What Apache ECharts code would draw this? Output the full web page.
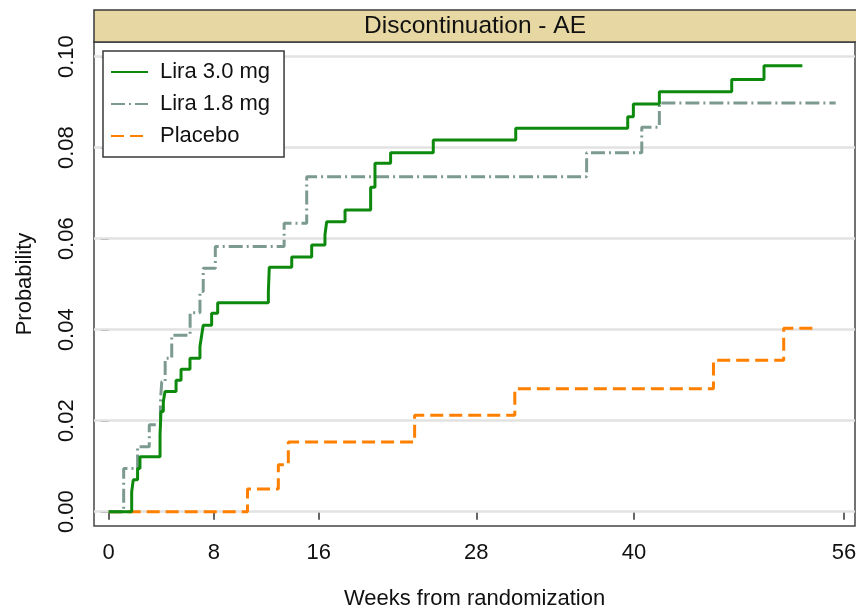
<!DOCTYPE html>
<html>
<head>
<meta charset="utf-8">
<script src="https://cdn.jsdelivr.net/npm/echarts@6/dist/echarts.min.js"></script>
<style>
  html, body { margin: 0; padding: 0; background: #fff; }
  #chart { width: 856px; height: 611px; }
</style>
</head>
<body>
<div id="chart"></div>
<script>
// Cumulative probability of discontinuation due to adverse events (step curves)
const weeksLira30 = [0, 1.75, 1.87, 2.2, 2.38, 3.91, 3.98, 4.16, 4.29, 5.13, 5.51, 6.19, 6.95, 7.08, 7.2, 7.84, 8.3, 12.16, 12.23, 13.94, 15.46, 16.47, 16.6, 18.0, 19.95, 20.28, 21.47, 24.72, 31.0, 39.53, 39.96, 41.94, 47.45, 49.91, 52.83];
const probLira30  = [0, 0.0044, 0.0070, 0.0095, 0.0121, 0.0169, 0.0220, 0.0242, 0.0264, 0.0289, 0.0313, 0.0337, 0.0363, 0.0388, 0.0410, 0.0436, 0.0459, 0.0484, 0.0537, 0.0560, 0.0586, 0.0608, 0.0637, 0.0663, 0.0713, 0.0766, 0.0789, 0.0817, 0.0843, 0.0868, 0.0896, 0.0923, 0.0950, 0.0980, 0.0980];

const weeksLira18 = [0, 1.14, 2.2, 3.09, 3.94, 4.04, 4.3, 4.8, 6.2, 6.95, 7.2, 8.12, 13.36, 15.08, 36.4, 40.6, 41.94, 55.37];
const probLira18  = [0, 0.0095, 0.0143, 0.0191, 0.0242, 0.0286, 0.0337, 0.0388, 0.0437, 0.0484, 0.0535, 0.0583, 0.0634, 0.0736, 0.0789, 0.0845, 0.0898, 0.0898];

const weeksPlacebo = [0, 10.57, 12.92, 13.68, 23.3, 30.93, 46.06, 51.41, 53.8];
const probPlacebo  = [0, 0.0050, 0.0103, 0.0153, 0.0212, 0.0270, 0.0333, 0.0403, 0.0403];

const seriesNames = ['Lira 3.0 mg', 'Lira 1.8 mg', 'Placebo'];
const xTickValues = [0, 8, 16, 28, 40, 56];
const yTickValues = [0, 0.02, 0.04, 0.06, 0.08, 0.10];
const panelTitle = 'Discontinuation - AE';

const FONT = '"Liberation Sans", Arial, sans-serif';
const pairs = (xs, ys) => xs.map((x, i) => [x, ys[i]]);

const chart = echarts.init(document.getElementById('chart'), null, { renderer: 'canvas' });

chart.setOption({
  animation: false,
  backgroundColor: '#ffffff',
  textStyle: { fontFamily: FONT },
  grid: {
    left: 94, right: 1, top: 42, bottom: 85,
    outerBoundsMode: 'none', containLabel: false,
    show: true, borderColor: '#444', borderWidth: 1.5, backgroundColor: '#ffffff'
  },
  graphic: [
    {
      type: 'rect', z: 10,
      shape: { x: 94, y: 10, width: 770, height: 32 },
      style: { fill: '#e6d7a3', stroke: '#3a3a3a', lineWidth: 1.5 }
    },
    {
      type: 'text', z: 11,
      x: 475, y: 26,
      style: {
        text: panelTitle, fill: '#111', font: '24.5px ' + FONT,
        textAlign: 'center', textVerticalAlign: 'middle'
      }
    }
  ],
  legend: {
    data: seriesNames,
    orient: 'vertical',
    left: 103, top: 51,
    padding: [9, 14, 9, 7],
    itemGap: 8,
    itemWidth: 37, itemHeight: 14,
    itemStyle: { opacity: 0 },
    backgroundColor: '#ffffff',
    borderColor: '#3a3a3a', borderWidth: 1.5, borderRadius: 0,
    textStyle: { fontFamily: FONT, fontSize: 22, color: '#111', lineHeight: 24, padding: [0, 0, 0, 7] }
  },
  xAxis: {
    type: 'value',
    min: -1.12, max: 56.84,
    name: 'Weeks from randomization',
    nameLocation: 'middle', nameGap: 62,
    nameTextStyle: { fontFamily: FONT, fontSize: 22, color: '#111' },
    axisLine: { show: false },
    axisTick: { show: true, customValues: xTickValues, length: 8, lineStyle: { color: '#333', width: 1.5 } },
    axisLabel: { customValues: xTickValues, fontFamily: FONT, fontSize: 22, color: '#111', margin: 16 },
    splitLine: { show: false }
  },
  yAxis: {
    type: 'value',
    min: -0.00314, max: 0.10323,
    name: 'Probability',
    nameLocation: 'middle', nameGap: 58, nameRotate: 90,
    nameTextStyle: { fontFamily: FONT, fontSize: 22, color: '#111' },
    axisLine: { show: false },
    axisTick: { show: true, customValues: yTickValues, length: 8, lineStyle: { color: '#333', width: 1.5 } },
    axisLabel: {
      customValues: yTickValues, rotate: 90, fontFamily: FONT, fontSize: 22, color: '#111', margin: 16,
      formatter: v => v.toFixed(2)
    },
    splitLine: { show: false }
  },
  series: [
    {
      // horizontal reference lines at each labelled probability, kept beneath the curves
      type: 'line', data: [], z: 1, silent: true,
      markLine: {
        z: 1,
        silent: true, symbol: 'none', label: { show: false },
        lineStyle: { color: '#e2e2e2', width: 2.5, type: 'solid' },
        data: yTickValues.map(v => ({ yAxis: v }))
      }
    },
    {
      name: seriesNames[0], type: 'line', step: 'end', z: 5,
      data: pairs(weeksLira30, probLira30),
      symbol: 'none', showSymbol: false,
      color: '#0d8a0d',
      lineStyle: { color: '#0d8a0d', width: 3, cap: 'butt' }
    },
    {
      name: seriesNames[1], type: 'line', step: 'end', z: 4,
      data: pairs(weeksLira18, probLira18),
      symbol: 'none', showSymbol: false,
      color: '#7c9a8f',
      lineStyle: { color: '#7c9a8f', width: 3, type: [14, 4, 2, 4], cap: 'butt' }
    },
    {
      name: seriesNames[2], type: 'line', step: 'end', z: 3,
      data: pairs(weeksPlacebo, probPlacebo),
      symbol: 'none', showSymbol: false,
      color: '#ff8000',
      lineStyle: { color: '#ff8000', width: 3, type: [13, 6], cap: 'butt' }
    }
  ]
});
</script>
</body>
</html>
